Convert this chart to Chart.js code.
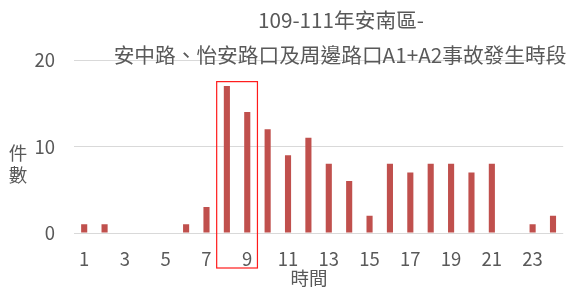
<!DOCTYPE html>
<html>
<head>
<meta charset="utf-8">
<script src="https://cdn.jsdelivr.net/npm/chart.js@4"></script>
<style>
  html, body { margin: 0; padding: 0; background: #fff; }
  #wrap { width: 568px; height: 289px; }
</style>
</head>
<body>
<div id="wrap"><canvas id="c" width="568" height="289"></canvas></div>
<script>
/* ── data ─────────────────────────────── */
const hours  = ['1','2','3','4','5','6','7','8','9','10','11','12',
                '13','14','15','16','17','18','19','20','21','22','23','24'];
const counts = [1, 1, 0, 0, 0, 1, 3, 17, 14, 12, 9, 11,
                8, 6, 2, 8, 7, 8, 8, 7, 8, 0, 1, 2];
const yTicks = [0, 10, 20];
const titleLines = ['109-111年安南區-', '安中路、怡安路口及周邊路口A1+A2事故發生時段'];
const xTitle = '時間';
const yTitle = ['件', '數'];
// highlighted hours (red box)
const boxFrom = '8', boxTo = '9', boxTopValue = 17.5;

const FONT = '"Noto Sans CJK TC", "Noto Sans", sans-serif';
const GRAY = '#595959';

/* ── overlay: titles + highlight box ──── */
const overlay = {
  id: 'overlay',
  afterDraw(chart) {
    const { ctx, scales: { x, y }, chartArea } = chart;
    ctx.save();
    ctx.fillStyle = GRAY;
    ctx.textAlign = 'center';
    ctx.textBaseline = 'middle';
    ctx.font = '20.7px ' + FONT;
    ctx.fillText(titleLines[0], 341, 20);
    ctx.fillText(titleLines[1], 340, 55);

    ctx.font = '18.5px ' + FONT;
    ctx.fillText(xTitle, 309, 278);
    yTitle.forEach((ch, i) => ctx.fillText(ch, 18, 153 + i * 22));

    // red box around the highlighted categories
    const half = (x.getPixelForValue(1) - x.getPixelForValue(0)) / 2;
    const left  = x.getPixelForValue(hours.indexOf(boxFrom)) - half;
    const right = x.getPixelForValue(hours.indexOf(boxTo)) + half;
    const top   = y.getPixelForValue(boxTopValue);
    const bottom = chartArea.bottom + 35;
    ctx.strokeStyle = '#ff1a1a';
    ctx.lineWidth = 1.2;
    ctx.strokeRect(left, top, right - left, bottom - top);
    ctx.restore();
  }
};

new Chart(document.getElementById('c'), {
  type: 'bar',
  data: {
    labels: hours,
    datasets: [{
      data: counts,
      backgroundColor: '#c0504d',
      borderWidth: 0,
      categoryPercentage: 1,
      barPercentage: 0.3
    }]
  },
  options: {
    responsive: false,
    animation: false,
    layout: { padding: { top: 60, right: 0, left: 0, bottom: 0 } },
    plugins: { legend: { display: false }, tooltip: { enabled: false } },
    scales: {
      x: {
        grid: { display: false, drawTicks: false },
        border: { display: false },
        ticks: {
          autoSkip: false,
          maxRotation: 0,
          padding: 15,
          color: GRAY,
          font: { family: FONT, size: 18.5 },
          callback: (v, i) => (i % 2 === 0 ? hours[i] : '')
        },
        afterFit: s => { s.height = 56; }
      },
      y: {
        min: 0,
        max: 20,
        grid: { color: '#d9d9d9', drawTicks: false },
        border: { display: false },
        afterBuildTicks: s => { s.ticks = yTicks.map(v => ({ value: v })); },
        ticks: {
          padding: 19,
          color: GRAY,
          font: { family: FONT, size: 18.5 }
        },
        afterFit: s => { s.width = 74; }
      }
    }
  },
  plugins: [overlay]
});
</script>
</body>
</html>
